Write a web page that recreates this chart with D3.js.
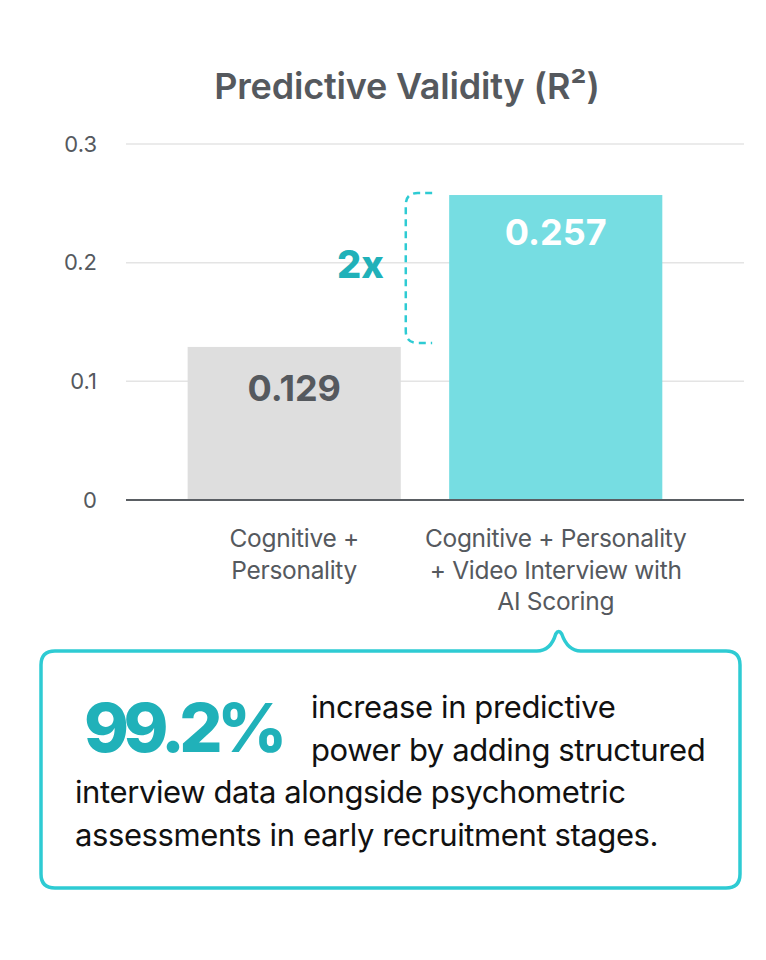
<!DOCTYPE html>
<head>
	<meta charset="utf-8">
	<script src="https://d3js.org/d3.v7.min.js"></script>
	<style>
		body {
			margin: 0;
			background: #fff;
		}
		svg text {
			font-family: Inter, "Noto Sans", sans-serif;
		}
		.y-axis text {
			font-size: 22px;
			fill: #55595e;
		}
	</style>
</head>
<body>

<svg width="766" height="960" id="chart"></svg>

<script>

	var categories = [
		["Cognitive +", "Personality"],
		["Cognitive + Personality", "+ Video Interview with", "AI Scoring"]
	];
	var values = [0.129, 0.257];
	var valueLabels = ["0.129", "0.257"];
	var yTicks = [0, 0.1, 0.2, 0.3];
	var calloutBig = "99.2%";
	var calloutLines = [
		"increase in predictive",
		"power by adding structured",
		"interview data alongside psychometric",
		"assessments in early recruitment stages."
	];

	var svg = d3.select("#chart");
	var margin = {top: 144, right: 22, bottom: 460, left: 126};
	var width = +svg.attr("width"),
		height = +svg.attr("height");

	var teal = "#2ecbd3",
		tealDark = "#20b1b9",
		barColors = ["#dedede", "#76dde2"],
		grey = "#55595e";

	var x = d3.scaleBand()
		.domain(d3.range(values.length))
		.range([margin.left, width - margin.right])
		.paddingInner(0.185)
		.paddingOuter(0.274)
		.align(0.43);

	var y = d3.scaleLinear()
		.domain([0, 0.3])
		.range([height - margin.bottom, margin.top]);

	// title
	svg.append("text")
		.attr("x", 407)
		.attr("y", 99)
		.attr("text-anchor", "middle")
		.style("font-size", "36px")
		.style("font-weight", 600)
		.style("fill", grey)
		.style("letter-spacing", "-0.2px")
		.text("Predictive Validity (R²)");

	// gridlines
	svg.append("g")
		.selectAll("line")
		.data(yTicks.slice(1))
		.enter().append("line")
		.attr("x1", margin.left)
		.attr("x2", width - margin.right)
		.attr("y1", d => y(d))
		.attr("y2", d => y(d))
		.attr("stroke", "#e4e4e4")
		.attr("stroke-width", 1.5);

	var yAxis = svg.append("g")
		.attr("class", "y-axis")
		.attr("transform", "translate(" + (margin.left - 29) + ",0)")
		.call(d3.axisLeft(y).tickValues(yTicks).tickSize(0).tickPadding(0).tickFormat(d3.format("")));
	yAxis.select(".domain").remove();

	// bars
	svg.append("g")
		.selectAll("rect")
		.data(values)
		.enter().append("rect")
		.attr("x", (d, i) => x(i))
		.attr("width", x.bandwidth())
		.attr("y", d => y(d))
		.attr("height", d => y(0) - y(d))
		.attr("fill", (d, i) => barColors[i]);

	// baseline
	svg.append("line")
		.attr("x1", margin.left)
		.attr("x2", width - margin.right)
		.attr("y1", y(0))
		.attr("y2", y(0))
		.attr("stroke", "#5a5e63")
		.attr("stroke-width", 2);

	// value labels
	svg.append("g")
		.selectAll("text")
		.data(values)
		.enter().append("text")
		.attr("x", (d, i) => x(i) + x.bandwidth() / 2)
		.attr("y", (d, i) => i == 0 ? y(d) + 54 : y(d) + 50)
		.attr("text-anchor", "middle")
		.style("font-size", "36px")
		.style("font-weight", 700)
		.style("fill", (d, i) => i == 0 ? grey : "#fff")
		.text((d, i) => valueLabels[i]);

	// category labels
	var cat = svg.append("g")
		.selectAll("text")
		.data(categories)
		.enter().append("text")
		.attr("text-anchor", "middle")
		.style("font-size", "24.5px")
		.style("fill", grey);

	cat.selectAll("tspan")
		.data((d, i) => d.map(t => ({t: t, i: i})))
		.enter().append("tspan")
		.attr("x", d => x(d.i) + x.bandwidth() / 2)
		.attr("y", (d, j) => y(0) + 47 + j * 31.5)
		.style("letter-spacing", "-0.3px")
		.text(d => d.t);

	// bracket between the two bars
	var bx = x(0) + x.bandwidth() + 5,
		bx2 = x(1) - 17,
		by1 = y(values[1]) - 2,
		by2 = y(values[0]) - 4,
		r = 12;
	svg.append("path")
		.attr("d", "M" + bx2 + "," + by1 +
			"H" + (bx + r) +
			"Q" + bx + "," + by1 + " " + bx + "," + (by1 + r) +
			"V" + (by2 - r) +
			"Q" + bx + "," + by2 + " " + (bx + r) + "," + by2 +
			"H" + bx2)
		.attr("fill", "none")
		.attr("stroke", teal)
		.attr("stroke-width", 2.5)
		.attr("stroke-dasharray", "7,5");

	svg.append("text")
		.attr("x", bx - 22)
		.attr("y", (by1 + by2) / 2 + 10)
		.attr("text-anchor", "end")
		.style("font-size", "38px")
		.style("font-weight", 800)
		.style("fill", tealDark)
		.text("2x");

	// callout box with pointer
	var bl = 41, bt = 651, br = 740, bb = 888, cr = 14,
		px = x(1) + x.bandwidth() / 2 + 3, pt = 630;
	svg.append("path")
		.attr("d", "M" + (bl + cr) + "," + bt +
			"H" + (px - 22) +
			"Q" + (px - 8) + "," + bt + " " + (px - 3) + "," + (pt + 4) +
			"Q" + px + "," + (pt - 1) + " " + (px + 3) + "," + (pt + 4) +
			"Q" + (px + 9) + "," + bt + " " + (px + 22) + "," + bt +
			"H" + (br - cr) +
			"Q" + br + "," + bt + " " + br + "," + (bt + cr) +
			"V" + (bb - cr) +
			"Q" + br + "," + bb + " " + (br - cr) + "," + bb +
			"H" + (bl + cr) +
			"Q" + bl + "," + bb + " " + bl + "," + (bb - cr) +
			"V" + (bt + cr) +
			"Q" + bl + "," + bt + " " + (bl + cr) + "," + bt + "Z")
		.attr("fill", "#fff")
		.attr("stroke", teal)
		.attr("stroke-width", 3.5);

	svg.append("text")
		.attr("x", 84)
		.attr("y", 752)
		.style("font-size", "68px")
		.style("font-weight", 800)
		.style("letter-spacing", "-5.5px")
		.style("fill", tealDark)
		.text(calloutBig);

	svg.append("g")
		.selectAll("text")
		.data(calloutLines)
		.enter().append("text")
		.attr("x", (d, i) => i < 2 ? 311 : 75)
		.attr("y", (d, i) => 718 + i * 42.5)
		.style("font-size", "31px")
		.style("fill", "#111")
		.style("letter-spacing", "-0.4px")
		.text(d => d);

</script>
</body>
